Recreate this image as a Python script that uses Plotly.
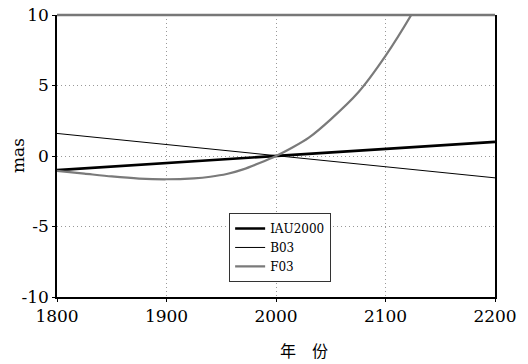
import plotly.graph_objects as go

years_lin = [1800, 2000, 2200]
iau2000 = [-1.0, 0.0, 1.0]
b03 = [1.6, 0.0, -1.55]

years_f03 = [1800, 1825, 1850, 1875, 1900, 1925, 1940, 1955, 1970, 1985, 2000, 2015, 2030, 2050, 2075, 2100, 2125, 2135]
f03 = [-1.05, -1.25, -1.45, -1.6, -1.65, -1.58, -1.47, -1.28, -0.95, -0.5, 0.0, 0.6, 1.3, 2.6, 4.5, 7.1, 10.2, 11.6]

x_ticks = [1800, 1900, 2000, 2100, 2200]
y_ticks = [-10, -5, 0, 5, 10]
y_tick_labels = ["-10", "-5", "0", "5", "10"]

serif = "DejaVu Serif"

fig = go.Figure()
fig.add_trace(go.Scatter(x=years_lin, y=iau2000, mode="lines", name="IAU2000",
                         line=dict(color="black", width=2.6)))
fig.add_trace(go.Scatter(x=years_lin, y=b03, mode="lines", name="B03",
                         line=dict(color="black", width=1)))
fig.add_trace(go.Scatter(x=years_f03, y=f03, mode="lines", name="F03",
                         line=dict(color="#7a7a7a", width=2.2, shape="spline", smoothing=0.8)))

fig.update_layout(
    width=528, height=364,
    margin=dict(l=57, r=33, t=15, b=67),
    plot_bgcolor="white", paper_bgcolor="white",
    font=dict(family=serif, color="black"),
    showlegend=True,
    legend=dict(x=0.393, y=0.298, xanchor="left", yanchor="top",
                bgcolor="white", bordercolor="#333", borderwidth=1,
                font=dict(family=serif, size=12), tracegroupgap=0,
                itemwidth=30),
    xaxis=dict(range=[1800, 2200], tickvals=x_ticks, showgrid=True, automargin=False,
               gridcolor="#999", griddash="1px,3px", gridwidth=1,
               showline=True, linecolor="black", linewidth=1.5,
               ticks="outside", ticklen=3, tickcolor="black",
               tickfont=dict(family=serif, size=17), zeroline=False),
    yaxis=dict(range=[-10, 10], tickvals=y_ticks, ticktext=y_tick_labels, showgrid=True, automargin=False,
               gridcolor="#999", griddash="1px,3px", gridwidth=1,
               showline=True, mirror=True, linecolor="black", linewidth=1.5,
               ticks="outside", ticklen=3, tickcolor="black",
               tickfont=dict(family=serif, size=17), zeroline=False),
    shapes=[dict(type="line", xref="paper", yref="paper", x0=0, x1=1, y0=1, y1=1,
                 line=dict(color="#777", width=2.5))],
    annotations=[
        dict(text="年\u3000份", xref="paper", yref="paper", x=(304 - 57) / 438, y=-(350 - 297) / 282,
             xanchor="center", yanchor="middle", showarrow=False,
             font=dict(family="Noto Sans CJK SC", size=16)),
        dict(text="mas", xref="paper", yref="paper", x=-(57 - 18) / 438, y=0.5,
             xanchor="center", yanchor="middle", showarrow=False, textangle=-90,
             font=dict(family=serif, size=17)),
    ],
)

fig.write_html("out.html", config={"displayModeBar": False},
               post_script="document.body.style.margin='0';document.body.style.overflow='hidden';")
